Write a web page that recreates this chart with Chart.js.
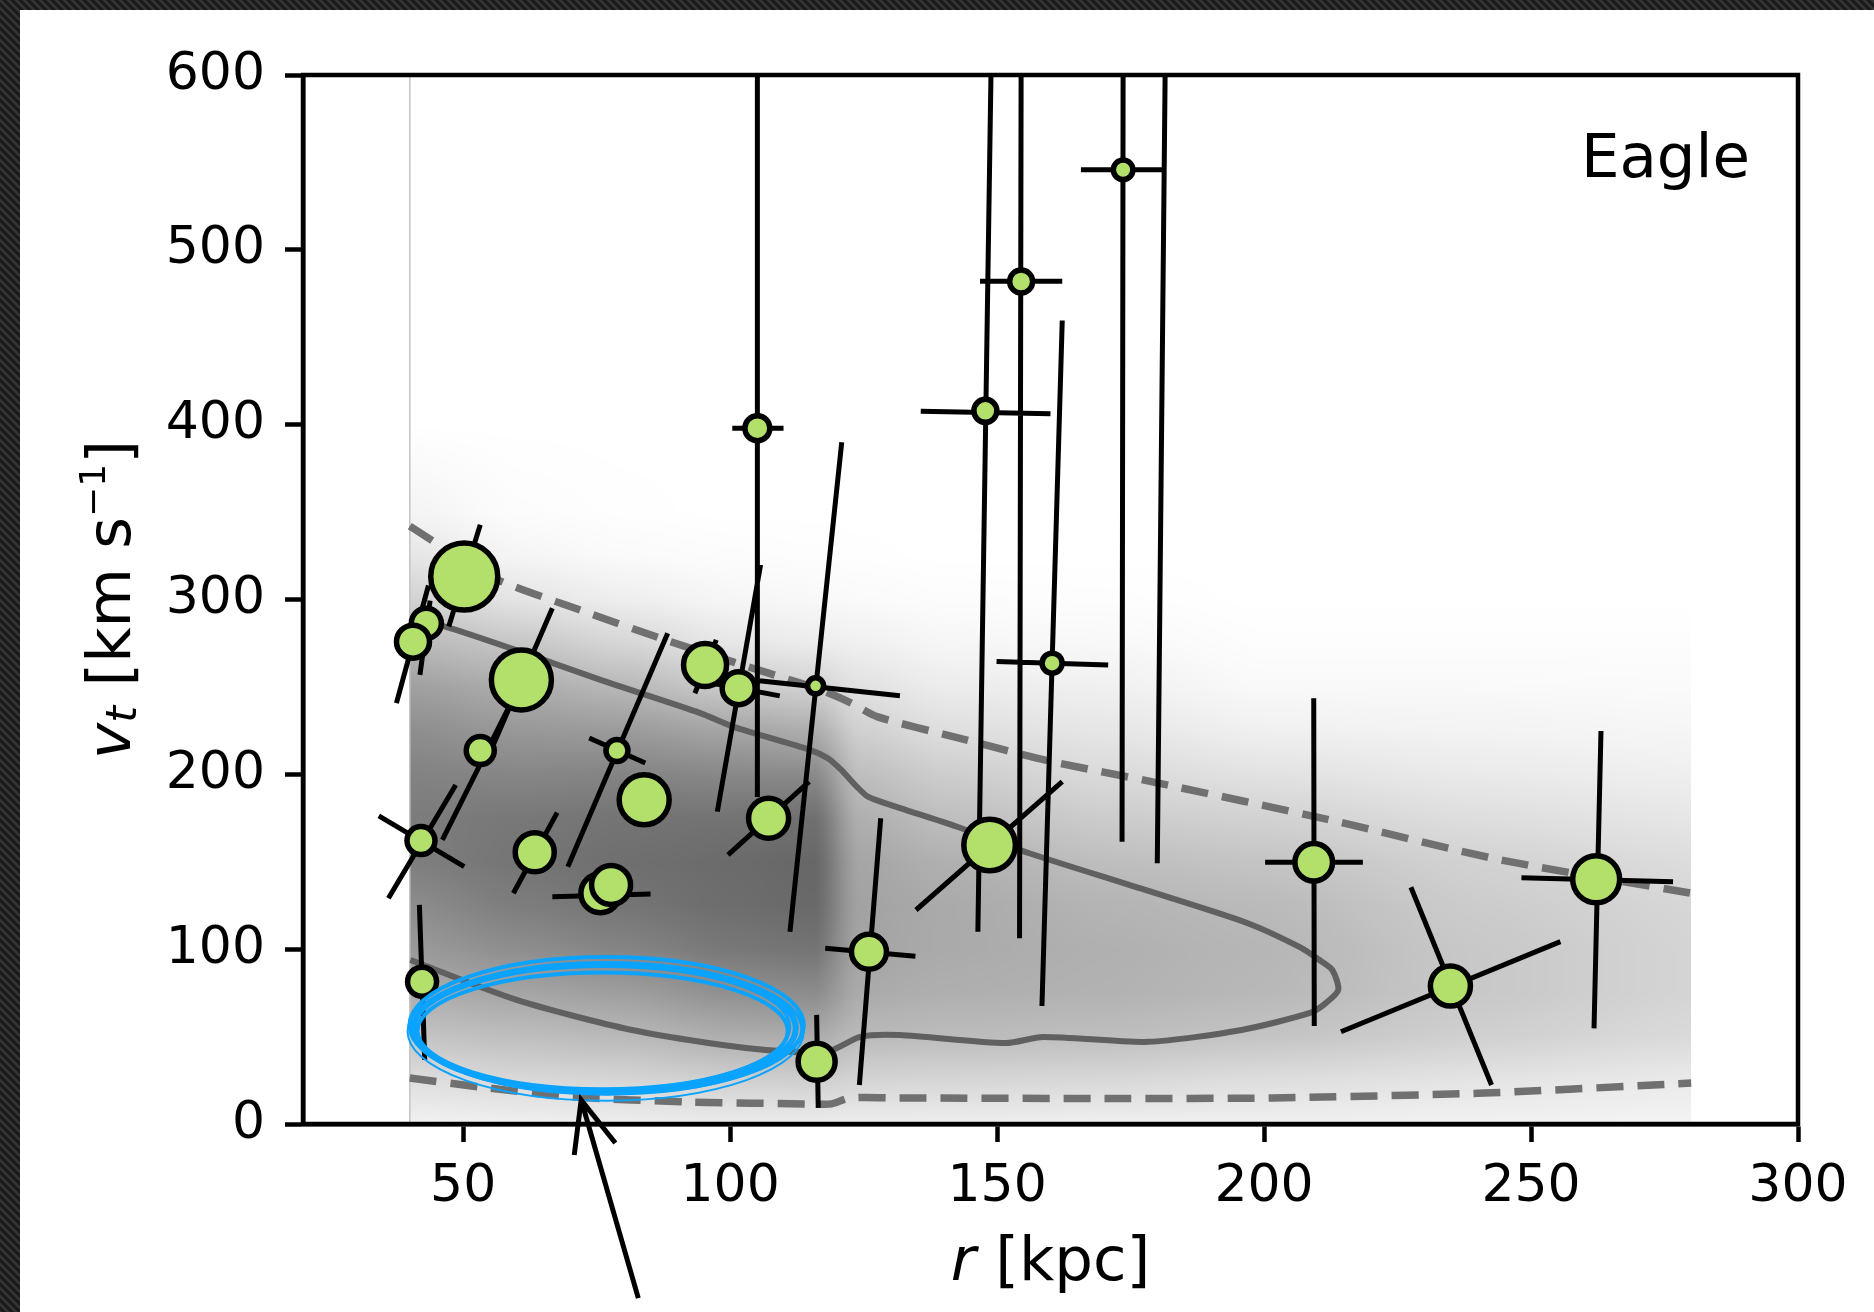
<!DOCTYPE html>
<html>
<head>
<meta charset="utf-8">
<script src="https://cdn.jsdelivr.net/npm/chart.js@4.4.1/dist/chart.umd.min.js"></script>
<style>
html, body { margin: 0; padding: 0; background: #fff; }
canvas { display: block; }
</style>
</head>
<body>
<canvas id="eagle" width="1874" height="1312"></canvas>
<script>
// axis ticks
var xTicks = [50, 100, 150, 200, 250, 300];
var yTicks = [0, 100, 200, 300, 400, 500, 600];

// satellites: r [kpc], v_t [km/s]
var satR  = [50.2, 43.1, 40.6, 60.9, 53.2, 42.1, 63.4, 78.8, 83.9, 75.7, 77.7, 42.3, 95.3, 101.6, 105.1, 107.2, 116.0, 126.0, 116.2, 148.6, 147.8, 154.5, 160.3, 173.6, 209.3, 234.9, 262.2];
var satVt = [313.1, 286.4, 275.9, 254.0, 213.6, 162.1, 155.4, 213.6, 185.4, 132.0, 136.7, 81.4, 262.6, 249.3, 398.0, 174.9, 250.6, 98.5, 35.6, 159.6, 407.9, 481.9, 263.6, 545.8, 149.7, 78.9, 140.0];
var markerRadius = [33.5, 15, 16.5, 30, 14, 14, 19.5, 11, 25, 19.5, 19.5, 14.5, 21.5, 16.5, 12.5, 20, 8, 17.5, 18.5, 25.8, 11.5, 11.5, 10, 9.8, 18.8, 20, 23.5];

// error ellipse axes, each one as [r0, v0, r1, v1]
var errSegments = [
  [53.2, 342.7, 47.3, 284.5],
  [43.8, 299.4, 41.9, 256.9],
  [43.5, 308.0, 37.5, 240.7],
  [66.7, 295.0, 55.1, 213.0],
  [58.6, 238.7, 46.1, 162.5],
  [34.2, 176.2, 50.2, 147.2], [48.6, 193.9, 36.0, 129.1],
  [67.6, 178.1, 59.4, 132.0],
  [88.3, 280.7, 69.6, 147.2], [73.6, 220.8, 84.1, 206.5],
  [66.7, 130.0, 85.1, 131.6],
  [41.8, 125.3, 42.8, 36.6], [39.4, 81.4, 45.2, 81.4],
  [97.4, 276.9, 93.4, 246.4],
  [105.7, 319.8, 97.6, 178.7], [93.9, 253.7, 109.3, 244.9],
  [105.1, 610, 105.1, 187.0], [100.4, 398.0, 110.0, 398.0],
  [114.8, 195.8, 99.6, 153.9],
  [104.1, 254.0, 131.8, 245.0], [120.9, 390.0, 111.2, 110.0],
  [128.2, 174.9, 124.2, 22.3], [117.8, 100.5, 134.7, 96.0],
  [116.2, 62.4, 116.5, 9.2],
  [162.2, 195.8, 134.8, 122.4],
  [148.9, 610, 146.4, 110.0], [135.7, 407.7, 160.0, 406.2],
  [154.5, 610, 154.2, 106.2], [146.8, 482.0, 162.2, 482.0],
  [162.2, 459.6, 158.4, 67.5], [149.9, 264.5, 170.8, 262.6],
  [173.6, 610, 173.4, 161.5], [165.7, 545.8, 181.0, 545.8],
  [181.5, 610, 180.0, 149.1],
  [209.3, 243.5, 209.4, 56.1], [200.2, 149.7, 218.5, 149.7],
  [227.5, 135.4, 242.6, 22.3], [214.4, 52.8, 255.5, 104.3],
  [263.1, 224.8, 261.8, 54.7], [248.2, 140.9, 276.6, 138.6]
];

// simulation contours
var innerR = [40, 46.8, 60, 75.7, 94.4, 100.8, 114.9, 118.3, 120.8, 123.7, 125.8, 130, 142.5, 155.9, 177.6, 196.8, 206.8, 210.5, 212.8, 213.9, 211.5, 208.6, 195.8, 178.3, 158.6, 151.6, 131.8, 124.5, 118.1, 103, 81.6, 60, 40.1];
var innerV = [289, 284.4, 271, 254, 235, 227, 214, 209.2, 202.5, 193, 187.2, 182.5, 170, 155, 134, 115, 101, 93.5, 88, 76.7, 69, 63.5, 53.8, 47, 49.8, 46.3, 50.9, 50, 41.4, 43.5, 53.8, 71, 93.8];
var upperR = [40, 55.2, 71.9, 88.7, 100.8, 113.3, 118, 122.5, 127.5, 142.5, 159.2, 180.2, 212.2, 244.4, 280];
var upperV = [342, 313, 294, 276, 264, 252, 247, 241, 233, 221, 208, 195, 174, 151, 132];
var lowerR = [40, 54.7, 70.8, 92.3, 116, 119, 122.4, 131.8, 170, 201.6, 241.2, 280];
var lowerV = [26.3, 20.6, 15.4, 12.6, 11.4, 11.5, 14.9, 14.9, 14.6, 14.9, 17.7, 23.4];

// density map: grey level per r column, rows at densV
var densR = [40, 60, 80, 100, 116, 124, 140, 170, 200, 240, 280];
var densV = [0, 25, 50, 75, 100, 125, 150, 175, 200, 225, 250, 275, 300, 325, 350, 400];
var densGray = [
  [242, 222, 196, 172, 154, 140, 126, 124, 130, 142, 160, 186, 210, 230, 244, 255],
  [240, 217, 190, 165, 142, 125, 117, 120, 134, 152, 172, 198, 228, 245, 252, 255],
  [238, 214, 185, 158, 132, 117, 111, 116, 132, 155, 184, 214, 238, 250, 254, 255],
  [236, 208, 174, 144, 120, 109, 107, 115, 136, 165, 202, 230, 246, 252, 255, 255],
  [237, 207, 172, 140, 116, 105, 103, 112, 138, 174, 210, 236, 248, 253, 255, 255],
  [238, 212, 186, 170, 164, 162, 165, 175, 190, 208, 225, 240, 250, 254, 255, 255],
  [238, 214, 188, 175, 170, 170, 176, 190, 205, 222, 236, 246, 252, 255, 255, 255],
  [240, 216, 190, 178, 176, 180, 190, 204, 218, 230, 240, 248, 253, 255, 255, 255],
  [240, 222, 196, 184, 182, 186, 196, 210, 226, 240, 249, 253, 255, 255, 255, 255],
  [242, 228, 208, 200, 200, 204, 210, 222, 234, 243, 249, 253, 255, 255, 255, 255],
  [244, 234, 218, 212, 212, 214, 220, 230, 239, 246, 250, 253, 255, 255, 255, 255]
];

// hand drawn mark: ellipse box and arrow (tail, tip, barb, barb)
var markR = [40.7, 112.3];
var markV = [18.5, 90.9];
var arrowR = [82.8, 72.1, 70.8, 78.5];
var arrowV = [-99.6, 13.7, -17.7, -10.9];

function pairs(rs, vs) {
  return rs.map(function (r, i) { return {x: r, y: vs[i]}; });
}

var errData = [];
errSegments.forEach(function (s) {
  errData.push({x: s[0], y: s[1]}, {x: s[2], y: s[3]}, {x: s[2], y: null});
});

function gridIndex(arr, val) {
  var i = 0;
  while (i < arr.length - 2 && val > arr[i + 1]) i++;
  var t = (val - arr[i]) / (arr[i + 1] - arr[i]);
  return [i, Math.max(0, Math.min(1, t))];
}

var frameBg = {
  id: 'frameBg',
  beforeDraw: function (chart) {
    var ctx = chart.ctx;
    ctx.save();
    ctx.fillStyle = '#ffffff';
    ctx.fillRect(0, 0, chart.width, chart.height);
    var tile = document.createElement('canvas');
    tile.width = 8; tile.height = 8;
    var t = tile.getContext('2d');
    t.fillStyle = '#1a1a1a';
    t.fillRect(0, 0, 8, 8);
    t.strokeStyle = '#363636';
    t.lineWidth = 2.5;
    t.beginPath();
    t.moveTo(-2, -2); t.lineTo(10, 10);
    t.moveTo(-2, 6); t.lineTo(2, 10);
    t.moveTo(6, -2); t.lineTo(10, 2);
    t.stroke();
    ctx.fillStyle = ctx.createPattern(tile, 'repeat');
    ctx.fillRect(0, 0, chart.width, 10);
    ctx.fillRect(0, 0, 20, chart.height);
    ctx.restore();
  }
};

var density = {
  id: 'density',
  beforeDatasetsDraw: function (chart) {
    var xs = chart.scales.x, ys = chart.scales.y, ca = chart.chartArea;
    var x0 = Math.round(xs.getPixelForValue(densR[0]));
    var x1 = Math.round(xs.getPixelForValue(densR[densR.length - 1]));
    var y0 = Math.max(Math.round(ys.getPixelForValue(densV[densV.length - 1])), Math.ceil(ca.top));
    var y1 = Math.round(ys.getPixelForValue(densV[0]));
    var w = x1 - x0, h = y1 - y0;
    var img = chart.ctx.createImageData(w, h);
    var cols = [], rows = [];
    for (var i = 0; i < w; i++) cols.push(gridIndex(densR, xs.getValueForPixel(x0 + i + 0.5)));
    for (var j = 0; j < h; j++) rows.push(gridIndex(densV, ys.getValueForPixel(y0 + j + 0.5)));
    for (j = 0; j < h; j++) {
      var rj = rows[j][0], tv = rows[j][1];
      for (i = 0; i < w; i++) {
        var ci = cols[i][0], tr = cols[i][1];
        // smooth the step between columns a little
        tr = tr * tr * (3 - 2 * tr) * 0.5 + tr * 0.5;
        var a = densGray[ci], b = densGray[ci + 1];
        var g = (a[rj] * (1 - tr) + b[rj] * tr) * (1 - tv) + (a[rj + 1] * (1 - tr) + b[rj + 1] * tr) * tv;
        var k = (j * w + i) * 4;
        img.data[k] = img.data[k + 1] = img.data[k + 2] = g;
        img.data[k + 3] = 255;
      }
    }
    chart.ctx.putImageData(img, x0, y0);
  }
};

function drawPieces(ctx, pieces) {
  var total = 0;
  pieces.forEach(function (p) { ctx.font = p.f; p.w = ctx.measureText(p.t).width; total += p.w; });
  var x = -total / 2;
  pieces.forEach(function (p) { ctx.font = p.f; ctx.fillText(p.t, x, p.dy); x += p.w; });
}

var overlay = {
  id: 'overlay',
  afterDatasetsDraw: function (chart) {
    var ctx = chart.ctx, ca = chart.chartArea;
    ctx.save();
    ctx.strokeStyle = '#000';
    ctx.lineWidth = 4.5;
    ctx.strokeRect(ca.left, ca.top, ca.right - ca.left, ca.bottom - ca.top);
    ctx.restore();
  },
  afterDraw: function (chart) {
    var ctx = chart.ctx, ca = chart.chartArea, xs = chart.scales.x, ys = chart.scales.y;
    ctx.save();
    ctx.fillStyle = '#000';
    ctx.textBaseline = 'alphabetic';
    ctx.textAlign = 'right';
    ctx.font = '61px "DejaVu Sans"';
    ctx.fillText('Eagle', 1750, 177);

    ctx.textAlign = 'left';
    ctx.save();
    ctx.translate((ca.left + ca.right) / 2, 1280);
    drawPieces(ctx, [
      {t: 'r', f: 'italic 61px "DejaVu Sans"', dy: 0},
      {t: ' [kpc]', f: '61px "DejaVu Sans"', dy: 0}
    ]);
    ctx.restore();

    ctx.save();
    ctx.translate(130, (ca.top + ca.bottom) / 2);
    ctx.rotate(-Math.PI / 2);
    drawPieces(ctx, [
      {t: 'v', f: 'italic 61px "DejaVu Sans"', dy: 0},
      {t: 't', f: 'italic 43px "DejaVu Sans"', dy: 6},
      {t: ' [km s', f: '61px "DejaVu Sans"', dy: 0},
      {t: '\u22121', f: '36px "DejaVu Sans"', dy: -25},
      {t: ']', f: '61px "DejaVu Sans"', dy: 0}
    ]);
    ctx.restore();

    // blue marker ellipse, a few loose strokes
    var ex0 = xs.getPixelForValue(markR[0]), ex1 = xs.getPixelForValue(markR[1]);
    var ey0 = ys.getPixelForValue(markV[0]), ey1 = ys.getPixelForValue(markV[1]);
    var cx = (ex0 + ex1) / 2, cy = (ey0 + ey1) / 2, rx = (ex1 - ex0) / 2, ry = (ey0 - ey1) / 2;
    ctx.strokeStyle = '#0aa3ff';
    [[0, 0, 0, 0, 6], [2, -3, 6, 5, 4], [-2, 2.5, -6, -5, 4], [3, 1, 3, 1, 3], [-3, -1, -3, -1, 3], [1, 3, 7, 6, 2]].forEach(function (o) {
      ctx.lineWidth = o[4];
      ctx.beginPath();
      ctx.ellipse(cx + o[0], cy + o[1], rx + o[2], ry + o[3], 0, 0, Math.PI * 2);
      ctx.stroke();
    });

    // arrow
    var ap = arrowR.map(function (r, i) { return [xs.getPixelForValue(r), ys.getPixelForValue(arrowV[i])]; });
    ctx.strokeStyle = '#000';
    ctx.lineWidth = 5;
    ctx.beginPath();
    ctx.moveTo(ap[0][0], ap[0][1]); ctx.lineTo(ap[1][0], ap[1][1]);
    ctx.moveTo(ap[2][0], ap[2][1]); ctx.lineTo(ap[1][0], ap[1][1]); ctx.lineTo(ap[3][0], ap[3][1]);
    ctx.stroke();
    ctx.restore();
  }
};

var tickFont = {family: 'DejaVu Sans', size: 52};

new Chart(document.getElementById('eagle'), {
  type: 'scatter',
  data: {
    datasets: [
      {
        label: 'satellites',
        data: pairs(satR, satVt),
        pointRadius: markerRadius,
        pointBackgroundColor: '#b3df6b',
        pointBorderColor: '#000',
        pointBorderWidth: 5.5,
        showLine: false,
        order: 0
      },
      {
        label: 'errors',
        data: errData,
        showLine: true,
        spanGaps: false,
        borderColor: '#000',
        borderWidth: 5,
        pointRadius: 0,
        tension: 0,
        order: 1
      },
      {
        label: 'inner',
        data: pairs(innerR, innerV),
        showLine: true,
        borderColor: '#606060',
        borderWidth: 6,
        pointRadius: 0,
        tension: 0.25,
        order: 2
      },
      {
        label: 'upper',
        data: pairs(upperR, upperV),
        showLine: true,
        borderColor: '#707070',
        borderWidth: 7.5,
        borderDash: [27, 14],
        pointRadius: 0,
        tension: 0.25,
        order: 2
      },
      {
        label: 'lower',
        data: pairs(lowerR, lowerV),
        showLine: true,
        borderColor: '#707070',
        borderWidth: 7.5,
        borderDash: [27, 14],
        pointRadius: 0,
        tension: 0.25,
        order: 2
      },
      {
        label: 'rmin',
        data: [{x: 40, y: 0}, {x: 40, y: 600}],
        showLine: true,
        borderColor: '#c4c4c4',
        borderWidth: 1.5,
        pointRadius: 0,
        order: 3
      }
    ]
  },
  options: {
    responsive: false,
    animation: false,
    devicePixelRatio: 1,
    events: [],
    layout: {padding: {left: 0, top: 75, right: 76, bottom: 0}},
    plugins: {legend: {display: false}, tooltip: {enabled: false}},
    scales: {
      x: {
        type: 'linear',
        min: 20,
        max: 300,
        afterBuildTicks: function (axis) { axis.ticks = xTicks.map(function (v) { return {value: v}; }); },
        afterFit: function (axis) { axis.height = 188; },
        ticks: {font: tickFont, color: '#000', padding: 14, maxRotation: 0, callback: function (v) { return String(v); }},
        grid: {display: true, drawOnChartArea: false, drawTicks: true, tickLength: 18, tickWidth: 4.5, tickColor: '#000'},
        border: {display: true, color: '#000', width: 4.5}
      },
      y: {
        type: 'linear',
        min: 0,
        max: 600,
        afterBuildTicks: function (axis) { axis.ticks = yTicks.map(function (v) { return {value: v}; }); },
        afterFit: function (axis) { axis.width = 303; },
        ticks: {font: tickFont, color: '#000', padding: 20, callback: function (v) { return String(v); }},
        grid: {display: true, drawOnChartArea: false, drawTicks: true, tickLength: 18, tickWidth: 4.5, tickColor: '#000'},
        border: {display: true, color: '#000', width: 4.5}
      }
    }
  },
  plugins: [frameBg, density, overlay]
});
</script>
</body>
</html>
